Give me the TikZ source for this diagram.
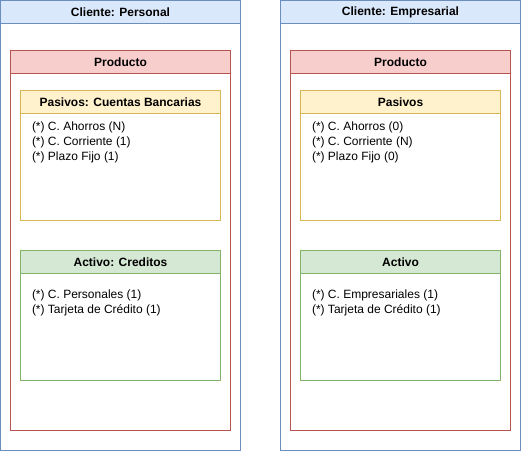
\documentclass[tikz,border=0pt]{standalone}
\usepackage{fontspec}
\setmainfont{Liberation Sans}
\definecolor{bluefill}{HTML}{DAE8FC}\definecolor{bluedraw}{HTML}{6C8EBF}
\definecolor{redfill}{HTML}{F8CECC}\definecolor{reddraw}{HTML}{B85450}
\definecolor{yelfill}{HTML}{FFF2CC}\definecolor{yeldraw}{HTML}{D6B656}
\definecolor{grnfill}{HTML}{D5E8D4}\definecolor{grndraw}{HTML}{82B366}
\begin{document}
\begin{tikzpicture}[x=1pt,y=-1pt,
  every node/.style={inner sep=0pt,outer sep=0pt},
  lane/.style={draw,fill=white,anchor=north west,line width=1pt},
  hdr/.style={draw,anchor=north west,line width=1pt,minimum height=23pt,
    font=\bfseries\fontsize{12}{14}\selectfont},
  body/.style={anchor=north west,align=left,font=\fontsize{12}{14.8}\selectfont},
  blue/.style={draw=bluedraw,fill=bluefill},
  red/.style={draw=reddraw,fill=redfill},
  yel/.style={draw=yeldraw,fill=yelfill},
  grn/.style={draw=grndraw,fill=grnfill}]
\useasboundingbox (0,0) rectangle (521,451);
% left column
\node[lane,draw=bluedraw,minimum width=240pt,minimum height=450pt] (c1) at (0.5,0.5) {};
\node[hdr,blue,minimum width=240pt] (c1h) at (c1.north west) {Cliente: Personal};
\node[lane,draw=reddraw,minimum width=220pt,minimum height=380pt] (p1) at (10.5,50.5) {};
\node[hdr,red,minimum width=220pt] (p1h) at (p1.north west) {Producto};
\node[lane,draw=yeldraw,minimum width=200pt,minimum height=130pt] (s1) at (20.5,90.5) {};
\node[hdr,yel,minimum width=200pt] (s1h) at (s1.north west) {Pasivos: Cuentas Bancarias};
\node[body] (s1t) at (32,122) {(*) C. Ahorros (N)\\(*) C. Corriente (1)\\(*) Plazo Fijo (1)};
\node[lane,draw=grndraw,minimum width=200pt,minimum height=130pt] (a1) at (20.5,250.5) {};
\node[hdr,grn,minimum width=200pt] (a1h) at (a1.north west) {Activo: Creditos};
\node[body] (a1t) at (32,289.5) {(*) C. Personales (1)\\(*) Tarjeta de Crédito (1)};
% right column
\node[lane,draw=bluedraw,minimum width=240pt,minimum height=450pt] (c2) at (280.5,0.5) {};
\node[hdr,blue,minimum width=240pt] (c2h) at (c2.north west) {Cliente: Empresarial};
\node[lane,draw=reddraw,minimum width=220pt,minimum height=380pt] (p2) at (290.5,50.5) {};
\node[hdr,red,minimum width=220pt] (p2h) at (p2.north west) {Producto};
\node[lane,draw=yeldraw,minimum width=200pt,minimum height=130pt] (s2) at (300.5,90.5) {};
\node[hdr,yel,minimum width=200pt] (s2h) at (s2.north west) {Pasivos};
\node[body] (s2t) at (312,122) {(*) C. Ahorros (0)\\(*) C. Corriente (N)\\(*) Plazo Fijo (0)};
\node[lane,draw=grndraw,minimum width=200pt,minimum height=130pt] (a2) at (300.5,250.5) {};
\node[hdr,grn,minimum width=200pt] (a2h) at (a2.north west) {Activo};
\node[body] (a2t) at (312,289.5) {(*) C. Empresariales (1)\\(*) Tarjeta de Crédito (1)};
\end{tikzpicture}
\end{document}
